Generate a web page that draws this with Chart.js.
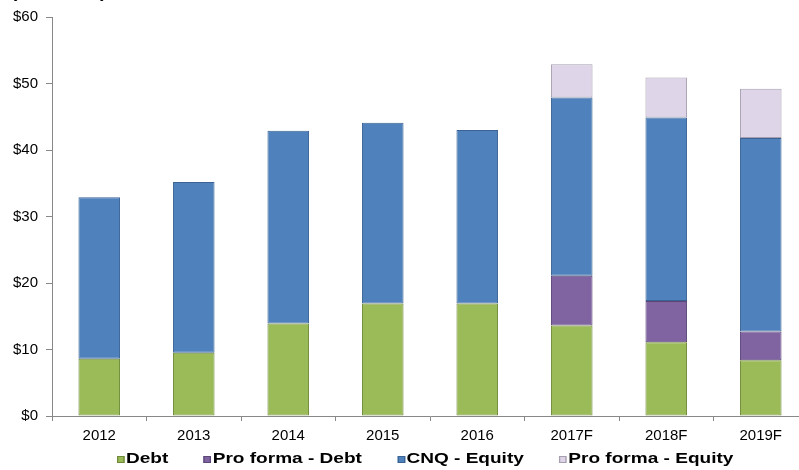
<!DOCTYPE html>
<html>
<head>
<meta charset="utf-8">
<script src="https://cdn.jsdelivr.net/npm/chart.js@4"></script>
<style>
  html, body { margin: 0; padding: 0; width: 799px; height: 470px; overflow: hidden; background: #fff; }
  #wrap { position: relative; width: 808px; height: 470px; }
  .txt { font-family: "Liberation Sans", Arial, sans-serif; font-weight: bold; color: #000; position: absolute; white-space: nowrap; transform: scaleX(1.27); transform-origin: 0 0; }
  #title { left: 11px; top: -16px; font-size: 15px; line-height: 17px; }
  #legend { left: 117px; top: 447px; font-size: 15px; line-height: 22px; display: flex; }
  #legend .item { display: flex; align-items: center; margin-right: 28px; }
  #legend .box { width: 4px; height: 5px; border: 1px solid; margin-right: 1px; margin-top: 2px; }
</style>
</head>
<body>
<div id="wrap">
  <canvas id="barChart" width="808" height="470"></canvas>
  <div id="title" class="txt">($ billions)</div>
  <div id="legend" class="txt"></div>
</div>
<script>
const years = ['2012', '2013', '2014', '2015', '2016', '2017F', '2018F', '2019F'];
const debt = [8.6, 9.5, 13.9, 16.9, 16.9, 13.6, 11.1, 8.4];
const proFormaDebt = [null, null, null, null, null, 7.5, 6.2, 4.3];
const cnqEquity = [24.3, 25.7, 29.0, 27.2, 26.1, 26.8, 27.6, 29.1];
const proFormaEquity = [null, null, null, null, null, 5.0, 6.0, 7.4];

const series = [
    {label: 'Debt', data: debt, fill: '#9BBB59', edge: '#6F8A3A'},
    {label: 'Pro forma - Debt', data: proFormaDebt, fill: '#8064A2', edge: '#5C4678'},
    {label: 'CNQ - Equity', data: cnqEquity, fill: '#4F81BD', edge: '#3A6394'},
    {label: 'Pro forma - Equity', data: proFormaEquity, fill: '#DFD5E9', edge: '#A79FB0'}
];

const tickFont = {family: '"Liberation Sans", Arial, sans-serif', size: 15};

const chart = new Chart(document.getElementById('barChart'), {
    type: 'bar',
    data: {
        labels: years,
        datasets: series.map(s => ({
            label: s.label,
            data: s.data,
            backgroundColor: s.fill,
            borderColor: s.edge,
            borderWidth: 1,
            borderSkipped: false,
            barPercentage: 0.44,
            categoryPercentage: 1.0
        }))
    },
    options: {
        responsive: false,
        devicePixelRatio: 1,
        animation: false,
        layout: {padding: {top: 16, bottom: 25, left: 0, right: 0}},
        plugins: {
            legend: {display: false},
            tooltip: {enabled: false}
        },
        scales: {
            x: {
                stacked: true,
                offset: true,
                grid: {display: true, drawOnChartArea: false, drawTicks: true, tickLength: 5, color: '#888', offset: true},
                border: {display: true, color: '#888'},
                ticks: {color: '#000', font: tickFont, padding: 6, maxRotation: 0, autoSkip: false},
                afterFit: s => { s.height = 29; }
            },
            y: {
                stacked: true,
                min: 0,
                max: 60,
                grid: {display: true, drawOnChartArea: false, drawTicks: true, tickLength: 6, color: '#888'},
                border: {display: true, color: '#888'},
                ticks: {stepSize: 10, color: '#000', font: tickFont, padding: 8, callback: v => '$' + v},
                afterFit: s => { s.width = 52; }
            }
        }
    }
});

// legend built from the chart's datasets
const legend = document.getElementById('legend');
chart.data.datasets.forEach(ds => {
    const item = document.createElement('span');
    item.className = 'item';
    const box = document.createElement('span');
    box.className = 'box';
    box.style.background = ds.backgroundColor;
    box.style.borderColor = ds.borderColor;
    item.appendChild(box);
    item.appendChild(document.createTextNode(ds.label));
    legend.appendChild(item);
});
</script>
</body>
</html>
